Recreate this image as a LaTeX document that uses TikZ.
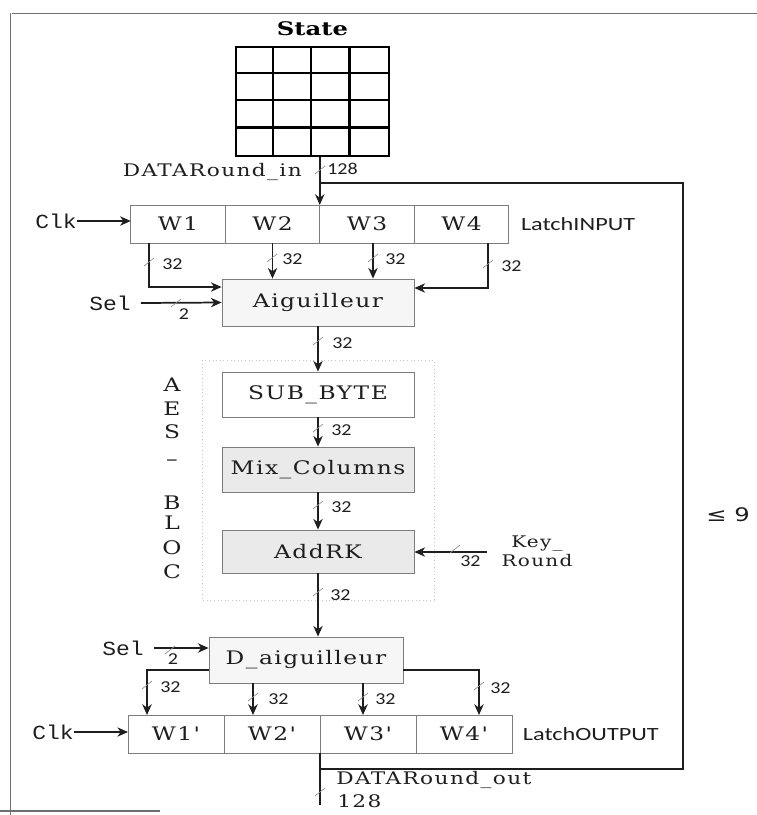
\documentclass[tikz,border=0pt]{standalone}
\usepackage{fontspec}
\usetikzlibrary{arrows.meta,calc,positioning}
\newfontfamily\serifw[FakeStretch=1.25,LetterSpace=8]{DejaVu Serif}
\newfontfamily\serifb[FakeStretch=1.3]{DejaVu Serif}
\newfontfamily\sansw[FakeStretch=1.2]{Carlito}
\newfontfamily\latchfont[FakeStretch=1.3]{Carlito}
\newfontfamily\monow[FakeStretch=1.15]{Liberation Mono}
\newfontfamily\symw[FakeStretch=1.3]{DejaVu Sans}
\definecolor{inkgray}{RGB}{30,30,30}
\definecolor{boxline}{RGB}{125,125,125}
\definecolor{boxshade}{RGB}{234,234,234}
\definecolor{tickgray}{RGB}{140,140,140}
\definecolor{framegray}{RGB}{110,110,110}

\tikzset{
  wcell/.style={draw=boxline, line width=0.6pt, fill=white, minimum height=28.5pt, inner sep=0pt, outer sep=0pt, font=\serifw\fontsize{14}{16}\selectfont, text=inkgray},
  stage/.style={draw=boxline, line width=0.6pt, minimum width=144pt, inner sep=0pt, font=\serifw\fontsize{14}{16}\selectfont, text=inkgray},
  bus/.style={draw=inkgray, line width=1.3pt, -{Stealth[length=8pt,width=7pt,inset=2.5pt]}},
  loopwire/.style={draw=inkgray, line width=1.8pt},
  tick/.style={draw=tickgray, line width=0.5pt},
  buslabel/.style={font=\sansw\fontsize{12.5}{14}\selectfont, inner sep=0pt, anchor=west, text=inkgray},
  sigtext/.style={font=\monow\fontsize{15}{17}\selectfont, inner sep=0pt, text=inkgray},
  latchname/.style={font=\latchfont\fontsize{14}{16}\selectfont, inner sep=0pt, anchor=west, text=inkgray},
  serlabel/.style={font=\serifw\fontsize{13}{15}\selectfont, inner sep=0pt, text=inkgray},
}

% bus width mark: name, point, label position, text
\newcommand{\busmark}[4]{%
  \draw[tick] ($(#2)+(-5,4)$) -- ($(#2)+(5,-4)$);
  \node[buslabel] (#1) at (#3) {#4};}

\begin{document}
\begin{tikzpicture}[x=0.75pt,y=-0.75pt]
\useasboundingbox (0,0) rectangle (757,815);

% 1. FRAME
\draw[framegray, line width=0.6pt] (12,13) -- (757,13);
\draw[framegray, line width=0.6pt] (10,13) -- (10,815);
\draw[framegray, line width=0.8pt] (0,811) -- (160,811);

% 2. STATE MATRIX
\node[draw=black, line width=1.8pt, minimum width=114.75pt, minimum height=81.75pt, inner sep=0pt] (state) at (312.5,101.5) {};
\foreach \c in {1,2,3} {
    \draw[line width=1.6pt] ($(state.north west)+(38.25*\c,0)$) -- ($(state.south west)+(38.25*\c,0)$);
    \draw[line width=1.6pt] ($(state.north west)+(0,27.25*\c)$) -- ($(state.north east)+(0,27.25*\c)$);
}
\node[font=\serifb\bfseries\fontsize{14}{16}\selectfont, inner sep=0pt, above=7pt of state] (statetitle) {State};

% 3. LATCH INPUT
\node[wcell, minimum width=70.875pt] (wi1) at (178,224) {W1};
\node[wcell, minimum width=70.875pt, right=0pt of wi1] (wi2) {W2};
\node[wcell, minimum width=70.875pt, right=0pt of wi2] (wi3) {W3};
\node[wcell, minimum width=70.875pt, right=0pt of wi3] (wi4) {W4};
\node[latchname, right=9pt of wi4] (latchin) {LatchINPUT};

\node[sigtext] (clkin) at (56,221) {Clk};
\draw[bus, line width=1pt] (clkin.east) -- (clkin.east -| wi1.west);

% input bus + labels
\draw[bus] (state.south -| wi3.west) -- (wi3.north west);
\node[serlabel, anchor=east] (datain) at (302,172) {DATARound\_in};
\busmark{bin}{320,170}{327,169}{128}

% 4. AIGUILLEUR
\node[stage, minimum height=35.25pt, fill=boxshade!45] (aig) at (318,302.5) {Aiguilleur};
\draw[bus] ($(wi1.south)+(-29,0)$) |- ($(aig.west)+(0,-15.5)$);
\draw[bus] (wi2.south) -- (wi2.south |- aig.north);
\draw[bus] ($(wi3.south)+(6,0)$) coordinate (w3o) -- (w3o |- aig.north);
\draw[bus] ($(wi4.south)+(26.5,0)$) |- ($(aig.east)+(0,-14.5)$);
\busmark{b1}{149,262}{162,264}{32}
\busmark{b2}{272,258}{282,259}{32}
\busmark{b3}{373,258}{385,259}{32}
\busmark{b4}{488,264}{501,266}{32}

\node[sigtext] (selin) at (110,303) {Sel};
\draw[bus] ([xshift=7.5pt]selin.east) -- (aig.west);
\draw[tick] (171,307) -- (181,299);
\node[buslabel, anchor=center] (sel2in) at (184,314) {2};

% 5. AES BLOC
\draw[black!22, dotted, line width=0.7pt] (202,360) rectangle (434,600);
\foreach \ch/\yy in {A/385, E/409, S/432, –/463, B/503, L/523, O/548, C/572} {
    \node[font=\serifw\fontsize{14}{16}\selectfont, inner sep=0pt, text=inkgray] (aes\yy) at (172,\yy) {\ch};
}

\node[stage, minimum height=33.75pt, fill=white] (subbyte) at (318,394.5) {SUB\_BYTE};
\node[stage, minimum height=33.75pt, fill=boxshade] (mixcol) at (318,469.5) {Mix\_Columns};
\node[stage, minimum height=32.25pt, fill=boxshade] (addrk) at (318,551.5) {AddRK};

\draw[bus] (aig.south) -- (subbyte.north);
\draw[bus] (subbyte.south) -- (mixcol.north);
\draw[bus] (mixcol.south) -- (addrk.north);
\busmark{b5}{318,341}{332,343}{32}
\busmark{b6}{318,428}{331,430}{32}
\busmark{b7}{318,505}{331,507}{32}

% round key
\node[font=\serifw\fontsize{12}{14.5}\selectfont, inner sep=0pt, align=center, text=inkgray] (keyround) at (537,551.5) {Key\_\\Round};
\coordinate (keyin) at (487,552);
\draw[bus] (keyin) -- (keyin -| addrk.east);
\busmark{bk}{455,549}{460,561}{32}

% 6. D_AIGUILLEUR
\node[stage, minimum width=145.5pt, minimum height=34.5pt, fill=boxshade!45] (daig) at (306,660) {D\_aiguilleur};
\draw[bus] (addrk.south) -- (addrk.south |- daig.north);
\busmark{b8}{318,592}{330,595}{32}

\node[sigtext] (selout) at (123,648) {Sel};
\draw[bus] ([xshift=7.5pt]selout.east) -- (selout.east -| daig.west);
\draw[tick] (165,654) -- (175,646);
\node[buslabel, anchor=center] (sel2out) at (173,659) {2};

% 7. LATCH OUTPUT
\node[wcell, minimum width=72pt] (wo1) at (176,734) {W1'};
\node[wcell, minimum width=72pt, right=0pt of wo1] (wo2) {W2'};
\node[wcell, minimum width=72pt, right=0pt of wo2] (wo3) {W3'};
\node[wcell, minimum width=72pt, right=0pt of wo3] (wo4) {W4'};
\node[latchname, right=8pt of wo4] (latchout) {LatchOUTPUT};

\node[sigtext] (clkout) at (53,732) {Clk};
\draw[bus, line width=0.8pt] (clkout.east) -- (clkout.east -| wo1.west);

\draw[bus] ($(daig.west)+(0,10)$) -| ($(wo1.north)+(-29,0)$);
\draw[bus] ($(wo2.north)+(-19,0)$) coordinate (w2d) ++(0,0) (w2d |- daig.south) -- (w2d);
\draw[bus] ($(wo3.north)+(-5,0)$) coordinate (w3d) ++(0,0) (w3d |- daig.south) -- (w3d);
\draw[bus] ($(daig.east)+(0,10)$) -| ($(wo4.north)+(15,0)$);
\busmark{b9}{147,685}{160,687}{32}
\busmark{b10}{253,697}{268,699}{32}
\busmark{b11}{363,697}{375,699}{32}
\busmark{b12}{479,686}{490,688}{32}

% 8. OUTPUT AND FEEDBACK LOOP
\coordinate (outend) at ($(wo3.south west)+(0,52)$);
\coordinate (fbjoin) at ($(wo3.south west)+(0,16)$);
\coordinate (fbright) at (683,769);
\coordinate (fbtop) at (683,183);
\draw[loopwire] (wo3.south west) -- (outend);
\draw[loopwire] (fbjoin) -- (fbright) -- (fbtop) -- (fbtop -| wi3.west);

\node[serlabel, anchor=west] (dataout) at (336,780) {DATARound\_out};
\node[serlabel, anchor=west] (bout) at (337,801) {128};
\draw[tick] (315,796) -- (325,788);

\node[font=\symw\fontsize{14}{16}\selectfont, inner sep=0pt, text=inkgray] (rounds) at (728,515) {≤ 9};

\end{tikzpicture}
\end{document}
